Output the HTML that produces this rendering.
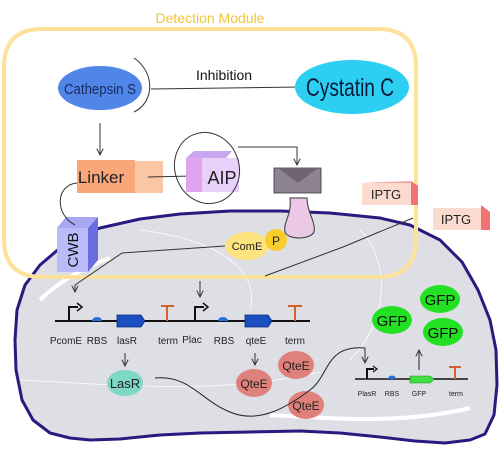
<!DOCTYPE html>
<html><head><meta charset="utf-8"><style>
html,body{margin:0;padding:0;background:#ffffff;width:500px;height:450px;overflow:hidden}
text{font-family:"Liberation Sans",sans-serif}
</style></head><body>
<svg width="500" height="450" viewBox="0 0 500 450" xmlns="http://www.w3.org/2000/svg" style="display:block;background:#ffffff">
<defs>
<marker id="a" viewBox="0 0 10 10" refX="9" refY="5" markerWidth="8" markerHeight="8" orient="auto" markerUnits="userSpaceOnUse"><path d="M1,1 L9,5 L1,9" fill="none" stroke="#333" stroke-width="1.2"/></marker>
</defs>
<polygon points="100,228 140,219 180,214 230,211 280,211 330,213 380,218 410,225 440,240 462,262 478,290 490,320 496,350 497,385 494,415 485,434 470,440 445,443 415,441 380,437 340,433 300,431 250,432 200,433 160,435 120,439 90,440 70,438 50,433 33,420 22,400 16,370 15,340 17,310 25,285 40,265 60,248 80,236" fill="#dedee5" stroke="#2a1a80" stroke-width="3" stroke-linejoin="round"/>
<g fill="none" stroke="#ffffff">
<path d="M40,300 C60,280 90,265 110,258" stroke-width="4"/>
<path d="M270,415 C330,418 400,425 470,408" stroke-width="4"/>
<path d="M20,380 C120,385 220,395 320,372" stroke-width="0.8"/>
<path d="M140,230 C220,240 260,270 250,310" stroke-width="0.8"/>
<path d="M360,230 C390,260 390,320 350,360" stroke-width="0.8"/>
</g>
<path d="M42,29 L378,29 Q416,29 416,67 L416,239 Q416,277 378,277 L42,277 Q4,277 4,239 L4,67 Q4,29 42,29 Z" fill="none" stroke="#fce29a" stroke-width="4"/>
<text x="210" y="23" font-size="14" fill="#f2c437" text-anchor="middle">Detection Module</text>
<ellipse cx="100" cy="88" rx="42" ry="22" fill="#4f86e8"/>
<text x="100" y="94" font-size="15" fill="#1a2a5a" text-anchor="middle" textLength="72" lengthAdjust="spacingAndGlyphs">Cathepsin S</text>
<path d="M134,58 C155,72 155,102 134,112" fill="none" stroke="#333" stroke-width="1"/>
<line x1="151" y1="89" x2="300" y2="87" stroke="#333" stroke-width="1"/>
<text x="224" y="80" font-size="14" fill="#111" text-anchor="middle">Inhibition</text>
<ellipse cx="352" cy="87" rx="57" ry="27" fill="#2ccff2"/>
<text x="350" y="96" font-size="25" fill="#0a1a3a" text-anchor="middle" textLength="88" lengthAdjust="spacingAndGlyphs">Cystatin C</text>
<line x1="100" y1="123" x2="100" y2="155" stroke="#333" stroke-width="1" marker-end="url(#a)"/>
<rect x="77" y="160" width="58" height="33" fill="#f9a77a"/>
<rect x="135" y="161" width="28" height="32" fill="#fbc6a4"/>
<text x="101" y="183" font-size="17" fill="#222" text-anchor="middle">Linker</text>
<line x1="148" y1="177" x2="192" y2="176" stroke="#333" stroke-width="1"/>
<polygon points="186,158 194,151 232,151 226,158" fill="#c9a6f0"/>
<rect x="186" y="158" width="16" height="34" fill="#dfa4f0"/>
<rect x="202" y="158" width="37" height="34" fill="#e8d0fa"/>
<text x="222" y="184" font-size="18" fill="#222" text-anchor="middle">AIP</text>
<ellipse cx="207" cy="168" rx="32" ry="36" fill="none" stroke="#333" stroke-width="1" transform="rotate(-20 207 168)"/>
<polyline points="238,147 297,147 297,165" fill="none" stroke="#333" stroke-width="1" marker-end="url(#a)"/>
<path d="M290,198 C292,215 283,222 285,232 C288,240 310,240 314,232 C316,222 307,212 307,198 Z" fill="#ebc9e6" stroke="#333" stroke-width="1"/>
<polygon points="274,168 321,168 321,193 274,193" fill="#8d8391" stroke="#333" stroke-width="0.8"/>
<polygon points="278,168 318,168 298,183" fill="#6e6370"/>
<polygon points="57,228 66,217 98,217 88,228" fill="#a6a8f2"/>
<polygon points="88,228 98,217 98,260 88,272" fill="#6a6ce0"/>
<rect x="57" y="228" width="31" height="44" fill="#b9bcf8"/>
<text x="78" y="250" font-size="15" fill="#111" text-anchor="middle" transform="rotate(-90 78 250)">CWB</text>
<path d="M77,183 C55,185 55,215 75,225" fill="none" stroke="#333" stroke-width="1"/>
<ellipse cx="247" cy="246" rx="22" ry="14" fill="#fde47e"/>
<text x="247" y="250" font-size="11" fill="#222" text-anchor="middle">ComE</text>
<circle cx="276" cy="240" r="11" fill="#f8cc2a"/>
<text x="276" y="245" font-size="12" fill="#222" text-anchor="middle">P</text>
<polyline points="225,246 122,253 75,285 75,292" fill="none" stroke="#333" stroke-width="1" marker-end="url(#a)"/>
<polygon points="362,183 410,181 418,186 370,188" fill="#f7a0a0"/>
<rect x="362" y="183" width="49" height="22" fill="#fbdbd0"/>
<polygon points="411,181 418,186 418,205 411,205" fill="#f07272"/>
<text x="386" y="199" font-size="13" fill="#222" text-anchor="middle">IPTG</text>
<rect x="433" y="208" width="48" height="22" fill="#fbdbd0"/>
<polygon points="481,205 490,212 490,230 481,230" fill="#f07272"/>
<text x="456" y="224" font-size="13" fill="#222" text-anchor="middle">IPTG</text>
<polyline points="413,218 343,247 265,276" fill="none" stroke="#333" stroke-width="1"/>
<line x1="200" y1="281" x2="200" y2="297" stroke="#333" stroke-width="1" marker-end="url(#a)"/>
<line x1="55" y1="321" x2="310" y2="321" stroke="#111" stroke-width="2"/>
<polyline points="69,321 69,307 78,307" fill="none" stroke="#111" stroke-width="2"/><path d="M77,303 L82,307 L77,311" fill="none" stroke="#111" stroke-width="1.5"/>
<polyline points="195,321 195,307 204,307" fill="none" stroke="#111" stroke-width="2"/><path d="M203,303 L208,307 L203,311" fill="none" stroke="#111" stroke-width="1.5"/>
<path d="M92,321 A5,4 0 0 1 102,321 Z" fill="#2a6de0"/>
<path d="M218,321 A5,4 0 0 1 228,321 Z" fill="#2a6de0"/>
<polygon points="117,315 141,315 145,321 141,327 117,327" fill="#1a4fc0" stroke="#0a2a80" stroke-width="0.8"/>
<polygon points="245,315 268,315 272,321 268,327 245,327" fill="#1a4fc0" stroke="#0a2a80" stroke-width="0.8"/>
<path d="M161,306 L174,306 M167,306 L167,321" stroke="#d0622a" stroke-width="2"/>
<path d="M288,306 L302,306 M295,306 L295,321" stroke="#d0622a" stroke-width="2"/>
<g font-size="10" fill="#222" text-anchor="middle">
<text x="66" y="344">PcomE</text><text x="97" y="344">RBS</text><text x="127" y="344">lasR</text><text x="168" y="344">term</text><text x="192" y="343">Plac</text><text x="224" y="344">RBS</text><text x="256" y="344">qteE</text><text x="295" y="344">term</text>
</g>
<line x1="125" y1="353" x2="125" y2="366" stroke="#333" stroke-width="1" marker-end="url(#a)"/>
<line x1="255" y1="353" x2="255" y2="365" stroke="#333" stroke-width="1" marker-end="url(#a)"/>
<ellipse cx="125" cy="383" rx="18" ry="13" fill="#7dd8c6"/>
<text x="125" y="388" font-size="13" fill="#222" text-anchor="middle">LasR</text>
<g fill="#e0807a"><ellipse cx="254" cy="383" rx="18" ry="14"/><ellipse cx="296" cy="365" rx="18" ry="14"/><ellipse cx="306" cy="405" rx="18" ry="14"/></g>
<g font-size="12" fill="#222" text-anchor="middle"><text x="254" y="388">QteE</text><text x="296" y="370">QteE</text><text x="306" y="410">QteE</text></g>
<path d="M155,378 C190,375 200,400 230,412 C260,425 290,405 310,390 C330,375 325,345 365,348" fill="none" stroke="#222" stroke-width="1"/>
<line x1="365" y1="348" x2="365" y2="363" stroke="#333" stroke-width="1" marker-end="url(#a)"/>
<line x1="355" y1="379" x2="468" y2="379" stroke="#111" stroke-width="1.5"/>
<polyline points="367,379 367,369 374,369" fill="none" stroke="#111" stroke-width="2"/><path d="M373,366 L377,369 L373,372" fill="none" stroke="#111" stroke-width="1.2"/>
<path d="M388,379 A4,3.5 0 0 1 396,379 Z" fill="#2a6de0"/>
<polygon points="410,376 430,376 434,379 430,383 410,383" fill="#3fe03f" stroke="#1a901a" stroke-width="0.6"/>
<path d="M449,367 L461,367 M455,367 L455,379" stroke="#d0622a" stroke-width="2"/>
<g font-size="7" fill="#222" text-anchor="middle"><text x="367" y="396">PlasR</text><text x="392" y="396">RBS</text><text x="419" y="396">GFP</text><text x="456" y="396">term</text></g>
<line x1="419" y1="370" x2="419" y2="350" stroke="#222" stroke-width="1" marker-end="url(#a)"/>
<g fill="#22e022"><ellipse cx="392" cy="320" rx="20" ry="14"/><ellipse cx="440" cy="299" rx="20" ry="14"/><ellipse cx="443" cy="332" rx="20" ry="14"/></g>
<g font-size="15" fill="#111" text-anchor="middle"><text x="392" y="326">GFP</text><text x="440" y="305">GFP</text><text x="443" y="338">GFP</text></g>
</svg>
</body></html>
